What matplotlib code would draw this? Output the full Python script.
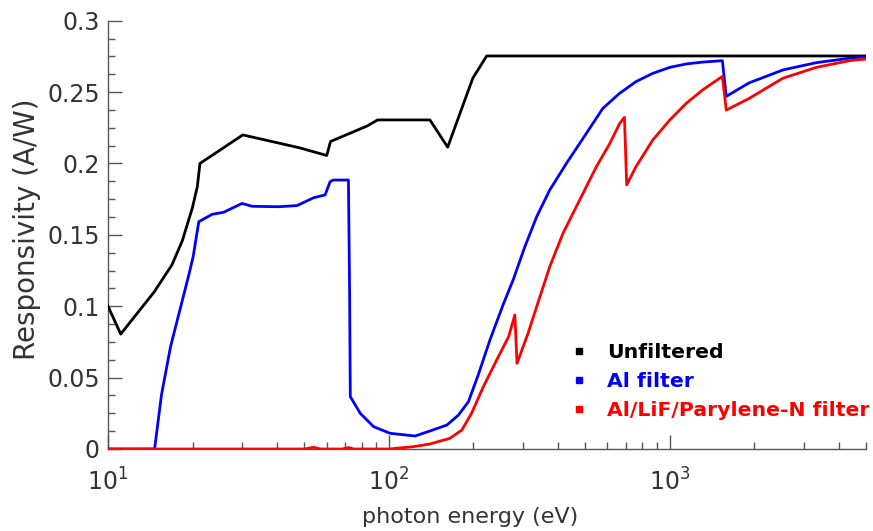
import matplotlib
matplotlib.use("Agg")
import matplotlib.pyplot as plt
from matplotlib.lines import Line2D
from matplotlib.ticker import LogLocator, MultipleLocator, NullFormatter

plt.rcParams['font.family'] = ['DejaVu Sans']
plt.rcParams['mathtext.fontset'] = 'dejavusans'
plt.rcParams['mathtext.default'] = 'regular'

# ---- data ----
unf_E = [10, 11.1, 14.6, 16.9, 18.4, 19.95, 20.8, 21.25, 30.2, 48, 60.1, 62, 83.6, 91.2,
         140, 162, 199, 223, 5000]
unf_R = [0.1, 0.0805, 0.110, 0.129, 0.146, 0.1686, 0.1837, 0.2, 0.22, 0.211, 0.2056,
         0.2154, 0.2262, 0.2305, 0.2305, 0.2114, 0.2597, 0.2753, 0.2753]

al_E = [10, 14.65, 15.5, 16.7, 17.9, 19.4, 20.1, 21.05, 23.5, 25.8, 30.0, 32.6, 40.5, 47.1,
        54, 59.3, 61.8, 63.5, 71.8, 72.5, 72.9, 79.1, 88.3, 101, 124, 140, 161, 177, 192,
        208, 229, 255, 277, 305, 336, 374, 429, 505, 578, 662, 758, 870, 1000, 1145,
        1310, 1540, 1590, 1920, 2530, 3325, 4370, 5000]
al_R = [0, 0, 0.0378, 0.0717, 0.095, 0.122, 0.1347, 0.1592, 0.1644, 0.1658, 0.172, 0.170,
        0.1697, 0.1705, 0.176, 0.178, 0.1873, 0.1884, 0.1884, 0.108, 0.0367, 0.025, 0.0156,
        0.011, 0.0091, 0.0126, 0.0168, 0.0238, 0.0331, 0.0518, 0.0763, 0.1009, 0.1184,
        0.1417, 0.1627, 0.1814, 0.2001, 0.2211, 0.2386, 0.249, 0.2573, 0.2631,
        0.2673, 0.2697, 0.271, 0.272, 0.247, 0.2565, 0.2655, 0.2706, 0.2737, 0.2745]

lif_E = [10, 50, 54, 57, 68, 72, 75, 100, 122, 140, 165, 182, 197, 217, 242, 267, 281, 286,
         313, 336, 374, 417, 478, 548, 610, 664, 690, 703, 758, 870, 1000, 1145, 1310, 1540,
         1590, 1920, 2530, 3325, 4370, 5000]
lif_R = [0, 0, 0.0012, 0, 0, 0.001, 0, 0, 0.0016, 0.0035, 0.0075, 0.0133, 0.025, 0.0436,
         0.0623, 0.0787, 0.0939, 0.060, 0.081, 0.0997, 0.1277, 0.1511, 0.1744, 0.1977, 0.2135,
         0.2281, 0.2323, 0.185, 0.1977, 0.2164, 0.2304, 0.2421, 0.2515, 0.2610, 0.2374,
         0.2456, 0.2597, 0.2673, 0.272, 0.2732]

series_names = ["Unfiltered", "Al filter", "Al/LiF/Parylene-N filter"]
series_colors = ["black", "#0000ff", "#ff0000"]

fig = plt.figure(figsize=(8.73, 5.31), dpi=100)
ax = fig.add_axes([108 / 873, 1 - 449 / 531, (866 - 108) / 873, (449 - 20.7) / 531])

ax.plot(unf_E, unf_R, color=series_colors[0], lw=2.0, zorder=3)
ax.plot(al_E, al_R, color=series_colors[1], lw=2.0, zorder=4)
ax.plot(lif_E, lif_R, color=series_colors[2], lw=2.0, zorder=5)

ax.set_xscale('log')
ax.set_xlim(10, 5000)
ax.set_ylim(0, 0.3)
ax.yaxis.set_minor_locator(MultipleLocator(0.0125))
ax.set_yticks([0, 0.05, 0.1, 0.15, 0.2, 0.25, 0.3])
ax.set_yticklabels(['0', '0.05', '0.1', '0.15', '0.2', '0.25', '0.3'])
ax.xaxis.set_minor_locator(LogLocator(base=10, subs=range(2, 10)))
ax.xaxis.set_minor_formatter(NullFormatter())

for s in ['top', 'right']:
    ax.spines[s].set_visible(False)
for s in ['left', 'bottom']:
    ax.spines[s].set_color('#555555')
    ax.spines[s].set_linewidth(1.0)

ax.tick_params(which='major', direction='in', length=10, width=1.0, color='#555555',
               labelsize=17, labelcolor='#333333')
ax.tick_params(which='minor', direction='in', length=5, width=1.0, color='#555555')
ax.tick_params(axis='x', which='major', pad=14)
ax.tick_params(axis='y', which='major', pad=6)

ax.set_xlabel('photon energy (eV)', fontsize=16, color='#333333')
ax.xaxis.set_label_coords((470 - 108) / (866 - 108), -(517 - 449) / (449 - 20.7),
                          transform=ax.transAxes)
ax.xaxis.label.set_va('center')
ax.set_ylabel('Responsivity (A/W)', fontsize=20, color='#333333')
ax.yaxis.set_label_coords(-(108 - 27) / (866 - 108), (449 - 229) / (449 - 20.7),
                          transform=ax.transAxes)
ax.yaxis.label.set_va('center')

handles = [Line2D([], [], ls='none', marker='s', markersize=5, color=c) for c in series_colors]
leg = ax.legend(handles, series_names, loc='upper left',
                bbox_to_anchor=(569 / 873, 1 - 343 / 531), bbox_transform=fig.transFigure,
                frameon=False, fontsize=14.7, handlelength=1.0, handletextpad=0.85,
                labelspacing=0.5, borderpad=0, borderaxespad=0)
for t, c in zip(leg.get_texts(), series_colors):
    t.set_color(c)
    t.set_fontweight('bold')

fig.savefig('out.png', dpi=100)
